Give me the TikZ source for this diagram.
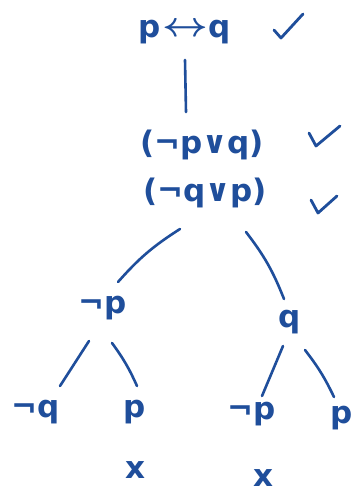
\documentclass[tikz,border=0pt]{standalone}
\usepackage{amsmath}
\usepackage{graphicx}
\usepackage{fontspec}
\setmainfont{DejaVu Sans}
\definecolor{ink}{HTML}{1F4E9B}
\begin{document}
\begin{tikzpicture}[x=1pt,y=-1pt,
  lbl/.style={text=ink,font=\fontsize{31}{34}\selectfont\bfseries,inner sep=1pt},
  edge/.style={draw=ink,line width=2.6pt,line cap=round},
  tick/.style={draw=ink,line width=2.8pt,line cap=round,line join=round}]
\useasboundingbox (0,0) rectangle (354,494);
\fill[white] (0,0) rectangle (354,494);
\node[lbl] (root) at (185,32) {p\kern1pt\raisebox{1pt}{\scalebox{1.6}[1.4]{$\boldsymbol{\leftrightarrow}$}}\kern1pt q};
\node[lbl] (d1) at (202,145) {(¬p∨q)};
\node[lbl] (d2) at (205,193) {(¬q∨p)};
\node[lbl] (np) at (103,308) {¬p};
\node[lbl] (q) at (290,322) {q};
\node[lbl] (nq) at (36,412) {¬q};
\node[lbl] (p1) at (135,412) {p};
\node[lbl] (np2) at (252,414) {¬p};
\node[lbl] (p2) at (342,418) {p};
\node[lbl] (x1) at (135,470) {x};
\node[lbl] (x2) at (263,478) {x};
\coordinate (a1) at (185,60); \coordinate (a2) at (186,112);
\draw[edge] (a1) -- (a2);
\coordinate (b1) at (180,229); \coordinate (b2) at (118,282);
\draw[edge] (b1) to[bend right=8] (b2);
\coordinate (c1) at (246,232); \coordinate (c2) at (284,299);
\draw[edge] (c1) to[bend left=8] (c2);
\coordinate (e1) at (89,341); \coordinate (e2) at (60,386);
\draw[edge] (e1) -- (e2);
\coordinate (f1) at (112,343); \coordinate (f2) at (137,386);
\draw[edge] (f1) to[bend left=6] (f2);
\coordinate (g1) at (283,346); \coordinate (g2) at (262,396);
\draw[edge] (g1) -- (g2);
\coordinate (h1) at (305,350); \coordinate (h2) at (334,397);
\draw[edge] (h1) to[bend left=6] (h2);
\draw[tick] (274,30) -- (281,38) -- (303,14);
\draw[tick] (309,133) -- (316,146) -- (340,126);
\draw[tick] (311,200) -- (318,213) -- (337,196);
\end{tikzpicture}
\end{document}
